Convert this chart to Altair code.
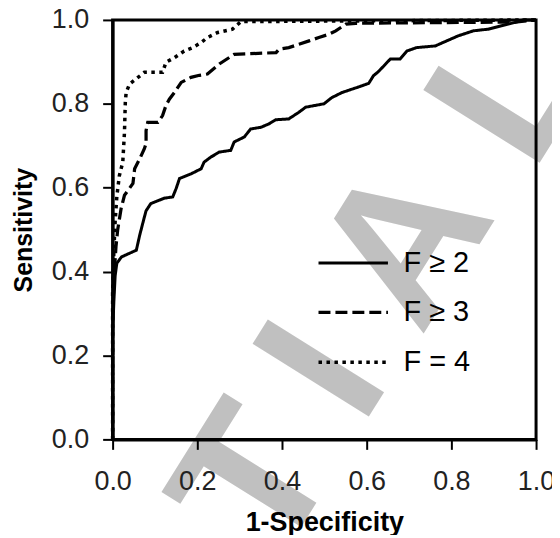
import altair as alt
import pandas as pd

# ---- data ----
series_names = ["F \u2265 2", "F \u2265 3", "F = 4"]

fpr_f2 = [0, 0, 0.003, 0.006, 0.010, 0.021, 0.056, 0.064, 0.075, 0.079,
          0.090, 0.122, 0.142, 0.150, 0.158, 0.185, 0.209, 0.216, 0.232, 0.252,
          0.279, 0.287, 0.311, 0.326, 0.350, 0.369, 0.385, 0.416, 0.440, 0.456,
          0.499, 0.518, 0.542, 0.589, 0.605, 0.616, 0.628, 0.656, 0.679, 0.695,
          0.718, 0.762, 0.789, 0.816, 0.852, 0.887, 0.918, 0.950, 0.969, 1.0]
tpr_f2 = [0, 0.25, 0.33, 0.39, 0.42, 0.435, 0.451, 0.487, 0.530, 0.545,
          0.562, 0.575, 0.578, 0.598, 0.622, 0.633, 0.645, 0.661, 0.673, 0.685,
          0.689, 0.709, 0.721, 0.740, 0.744, 0.752, 0.762, 0.764, 0.780, 0.792,
          0.800, 0.815, 0.827, 0.843, 0.849, 0.867, 0.877, 0.907, 0.907, 0.926,
          0.934, 0.938, 0.950, 0.962, 0.974, 0.978, 0.986, 0.994, 1.0, 1.0]

fpr_f3 = [0, 0, 0.004, 0.008, 0.012, 0.020, 0.028, 0.048, 0.052, 0.064,
          0.075, 0.079, 0.079, 0.083, 0.107, 0.118, 0.126, 0.134, 0.146, 0.162,
          0.185, 0.205, 0.224, 0.252, 0.287, 0.386, 0.393, 0.416, 0.440, 0.464,
          0.487, 0.511, 0.527, 0.551, 0.574, 0.950, 1.0]
tpr_f3 = [0, 0.30, 0.40, 0.46, 0.50, 0.55, 0.582, 0.610, 0.645, 0.669,
          0.693, 0.705, 0.736, 0.756, 0.756, 0.772, 0.796, 0.811, 0.827, 0.851,
          0.863, 0.868, 0.871, 0.895, 0.918, 0.922, 0.930, 0.934, 0.942, 0.950,
          0.958, 0.966, 0.974, 0.990, 0.992, 0.995, 1.0]

fpr_f4 = [0, 0, 0.003, 0.006, 0.010, 0.016, 0.024, 0.028, 0.030, 0.032,
          0.040, 0.060, 0.075, 0.118, 0.126, 0.146, 0.169, 0.189, 0.209, 0.224,
          0.248, 0.283, 0.303, 1.0]
tpr_f4 = [0, 0.35, 0.45, 0.52, 0.58, 0.629, 0.661, 0.732, 0.804, 0.827,
          0.847, 0.863, 0.875, 0.875, 0.899, 0.910, 0.926, 0.934, 0.946, 0.958,
          0.970, 0.978, 0.996, 1.0]

tick_values = [0.0, 0.2, 0.4, 0.6, 0.8, 1.0]
watermark_letters = ["T", "I", "A", "L"]

rows = []
for name, xs, ys in zip(series_names, [fpr_f2, fpr_f3, fpr_f4], [tpr_f2, tpr_f3, tpr_f4]):
    for i, (a, b) in enumerate(zip(xs, ys)):
        rows.append({"series": name, "fpr": a, "tpr": b, "idx": i})
df = pd.DataFrame(rows)

W, H = 425, 421
FONT = "Liberation Sans"

one_row = alt.Data(values=[{"k": 0}])

# watermark letters (decoration)
wm_pos = [(146, 465), (214, 354), (297, 226), (403, 71)]
wm_layers = []
for letter, (px, py) in zip(watermark_letters, wm_pos):
    wm_layers.append(
        alt.Chart(one_row).mark_text(
            text=letter, font=FONT, fontWeight="bold", fontSize=200,
            color="#c0c0c0", angle=302, align="center", baseline="middle"
        ).encode(x=alt.value(px), y=alt.value(py))
    )

frame = alt.Chart(one_row).mark_rect(
    fillOpacity=0, stroke="black", strokeWidth=3
).encode(x=alt.value(0), x2=alt.value(W), y=alt.value(0), y2=alt.value(H))

lines = alt.Chart(df).mark_line(color="black", strokeCap="butt").encode(
    x=alt.X("fpr:Q", scale=alt.Scale(domain=[0, 1], nice=False),
            axis=alt.Axis(values=tick_values, format=".1f", title="1-Specificity",
                          labelFlush=False, labelPadding=19, titlePadding=15,
                          titleFontSize=27, zindex=1)),
    y=alt.Y("tpr:Q", scale=alt.Scale(domain=[0, 1], nice=False),
            axis=alt.Axis(values=tick_values, format=".1f", title="Sensitivity",
                          labelPadding=14, titlePadding=15, titleFontSize=25,
                          zindex=1)),
    strokeDash=alt.StrokeDash(
        "series:N",
        scale=alt.Scale(domain=series_names, range=[[1, 0], [12, 5], [3.5, 4.5]]),
        legend=alt.Legend(
            title=None, orient="none", legendX=219, legendY=222,
            symbolType="M-1.7,0L1.7,0", symbolSize=1681,
            labelFont=FONT, labelFontSize=29, labelColor="black",
            labelOffset=28, rowPadding=12, padding=0,
        ),
    ),
    strokeWidth=alt.StrokeWidth(
        "series:N",
        scale=alt.Scale(domain=series_names, range=[3, 3.5, 2.5]),
    ),
    order=alt.Order("idx:Q"),
)

chart = alt.layer(*wm_layers, frame, lines).properties(
    width=W, height=H,
    autosize=alt.AutoSizeParams(type="none"),
    padding={"left": 105, "top": 11, "right": 16, "bottom": 95},
).configure_view(stroke=None).configure_axis(
    domainColor="black", domainWidth=3, tickColor="black", tickWidth=2,
    tickSize=10, grid=False,
    labelFont=FONT, labelFontSize=27, labelColor="#222",
    titleFont=FONT, titleFontWeight="bold", titleColor="black",
)

chart.save("out.html", embed_options={"renderer": "svg", "actions": False})
